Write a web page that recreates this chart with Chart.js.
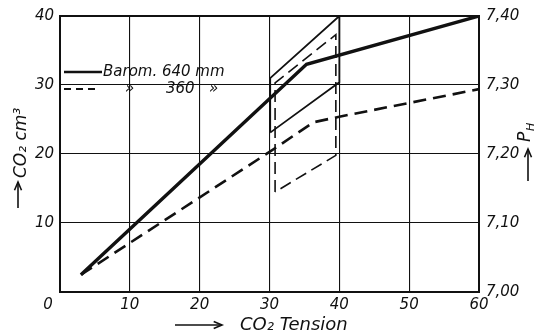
<!DOCTYPE html>
<html>
<head>
<meta charset="utf-8">
<script src="https://cdn.jsdelivr.net/npm/chart.js@4"></script>
<style>
  html, body { margin: 0; padding: 0; background: #fff; }
  #wrap { width: 541px; height: 336px; }
</style>
</head>
<body>
<div id="wrap"><canvas id="chart" width="541" height="336"></canvas></div>
<script>
// CO2 content vs CO2 tension, thick curves (left axis, cm3)
const baro640X = [3, 35.3, 60]
const baro640Y = [2.5, 33, 40]
const baro360X = [3, 30, 36.3, 40, 60]
const baro360Y = [2.5, 20.3, 24.6, 25.4, 29.4]

// thin outlines between 30 and 40 mm tension
const band640X = [30.1, 30.1, 40, 40, 30.1]
const band640Y = [23.1, 31, 40, 30.4, 23.1]
const band360X = [30.8, 30.8, 39.5, 39.5, 30.8]
const band360Y = [14.5, 30.3, 37.3, 19.8, 14.5]

const xTicks = [0, 10, 20, 30, 40, 50, 60]
const leftTicks = [0, 10, 20, 30, 40]
const phTicks = [7.0, 7.1, 7.2, 7.3, 7.4]

const legendRows = [
  { dash: [], parts: ['Barom. 640 mm'] },
  { dash: [7, 5], parts: ['»', '360', '»'] }
]

const ink = '#111'
const fam = '"DejaVu Sans", sans-serif'

function pts(xs, ys) {
  return xs.map((x, i) => ({ x, y: ys[i] }))
}

const decor = {
  id: 'decor',
  afterDraw(chart) {
    const { ctx, chartArea: a, scales } = chart
    ctx.save()
    ctx.strokeStyle = ink
    ctx.fillStyle = ink
    // frame
    ctx.lineWidth = 2
    ctx.strokeRect(a.left, a.top, a.right - a.left, a.bottom - a.top)

    // corner zero
    ctx.font = 'italic 15px ' + fam
    ctx.textAlign = 'center'
    ctx.textBaseline = 'middle'
    ctx.fillText('0', scales.x.getPixelForValue(0) - 12, a.bottom + 13)

    // legend
    ctx.textAlign = 'left'
    ctx.font = 'italic 15px ' + fam
    legendRows.forEach((row, i) => {
      const yy = a.top + 56 + i * 17
      ctx.lineWidth = i === 0 ? 2.5 : 2
      ctx.setLineDash(row.dash)
      ctx.beginPath()
      ctx.moveTo(a.left + 4, yy)
      ctx.lineTo(a.left + (i === 0 ? 42 : 40), yy)
      ctx.stroke()
      ctx.setLineDash([])
      if (i === 0) {
        ctx.fillText(row.parts[0], a.left + 43, yy)
      } else {
        ctx.fillText(row.parts[0], a.left + 65, yy)
        ctx.fillText(row.parts[1], a.left + 106, yy)
        ctx.fillText(row.parts[2], a.left + 149, yy)
      }
    })

    // arrows
    const arrow = (x1, y1, x2, y2) => {
      ctx.lineWidth = 1.6
      ctx.beginPath()
      ctx.moveTo(x1, y1)
      ctx.lineTo(x2, y2)
      ctx.stroke()
      const ang = Math.atan2(y2 - y1, x2 - x1)
      ctx.beginPath()
      ctx.moveTo(x2 - 9 * Math.cos(ang - 0.4), y2 - 9 * Math.sin(ang - 0.4))
      ctx.lineTo(x2, y2)
      ctx.lineTo(x2 - 9 * Math.cos(ang + 0.4), y2 - 9 * Math.sin(ang + 0.4))
      ctx.stroke()
    }

    // x title
    arrow(175, a.bottom + 33, 222, a.bottom + 33)
    ctx.font = 'italic 18px ' + fam
    ctx.textBaseline = 'middle'
    ctx.fillText('CO₂ Tension', 240, a.bottom + 33)

    // left title
    arrow(18, 208, 18, 182)
    ctx.save()
    ctx.translate(22, 178)
    ctx.rotate(-Math.PI / 2)
    ctx.font = 'italic 17px ' + fam
    ctx.textAlign = 'left'
    ctx.fillText('CO₂ cm³', 0, 0)
    ctx.restore()

    // right title
    arrow(528, 181, 528, 149)
    ctx.save()
    ctx.translate(526, 142)
    ctx.rotate(-Math.PI / 2)
    ctx.font = 'italic 17px ' + fam
    ctx.textAlign = 'left'
    ctx.fillText('P', 0, 0)
    ctx.font = 'italic 11px ' + fam
    ctx.fillText('H', 11, 5)
    ctx.restore()

    ctx.restore()
  }
}

const line = (data, width, dash) => ({
  data,
  showLine: true,
  pointRadius: 0,
  borderColor: ink,
  borderWidth: width,
  borderDash: dash,
  borderJoinStyle: 'miter',
  fill: false,
  tension: 0
})

const tickFont = { family: fam, size: 15, style: 'italic' }

new Chart(document.getElementById('chart'), {
  type: 'scatter',
  data: {
    datasets: [
      line(pts(baro640X, baro640Y), 3.4, []),
      line(pts(baro360X, baro360Y), 2.6, [13, 7]),
      line(pts(band640X, band640Y), 1.8, []),
      line(pts(band360X, band360Y), 1.6, [12, 6])
    ]
  },
  options: {
    responsive: false,
    animation: false,
    layout: { padding: { top: 15, left: 0, right: 0, bottom: 0 } },
    plugins: { legend: { display: false }, tooltip: { enabled: false } },
    scales: {
      x: {
        type: 'linear',
        min: 0,
        max: 60,
        afterBuildTicks: s => { s.ticks = xTicks.map(v => ({ value: v })) },
        afterFit: s => { s.height = 44 },
        grid: { color: '#111', lineWidth: 1.1, drawTicks: false },
        border: { color: ink, width: 2 },
        ticks: {
          padding: 4,
          color: ink,
          font: tickFont,
          maxRotation: 0,
          callback: v => (v === 0 ? '' : String(v))
        }
      },
      y: {
        type: 'linear',
        position: 'left',
        min: 0,
        max: 40,
        afterBuildTicks: s => { s.ticks = leftTicks.map(v => ({ value: v })) },
        afterFit: s => { s.width = 60 },
        grid: { color: '#111', lineWidth: 1.1, drawTicks: false },
        border: { color: ink, width: 2 },
        ticks: {
          padding: 6,
          color: ink,
          font: tickFont,
          callback: v => (v === 0 ? '' : String(v))
        }
      },
      ph: {
        type: 'linear',
        position: 'right',
        min: 7.0,
        max: 7.4,
        afterBuildTicks: s => { s.ticks = phTicks.map(v => ({ value: v })) },
        afterFit: s => { s.width = 62 },
        grid: { display: false, drawTicks: false },
        border: { color: ink, width: 2 },
        ticks: {
          padding: 7,
          color: ink,
          font: tickFont,
          callback: v => v.toFixed(2).replace('.', ',')
        }
      }
    }
  },
  plugins: [decor]
})
</script>
</body>
</html>
